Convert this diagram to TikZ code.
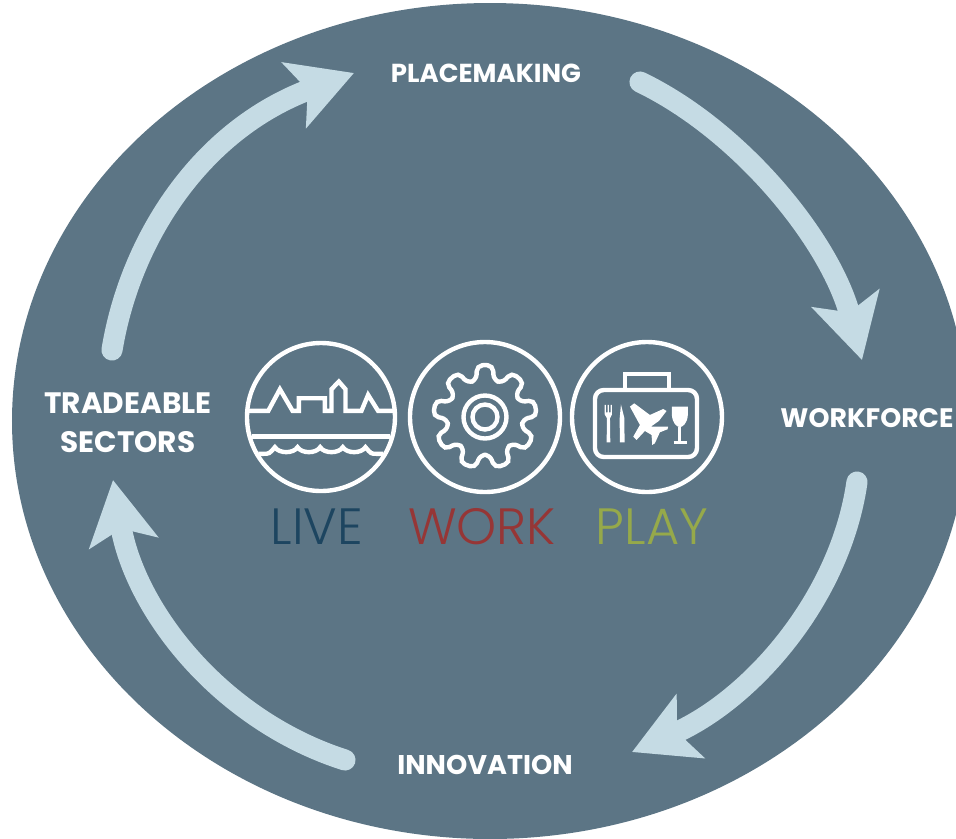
\documentclass[tikz,border=0pt]{standalone}
\usepackage{fontspec}
\usetikzlibrary{arrows.meta}
\setmainfont{Poppins}
\newfontfamily\thinfont{Poppins Light}
\definecolor{discblue}{HTML}{5C7585}
\definecolor{arrowblue}{HTML}{C5DBE4}
\definecolor{livecol}{HTML}{1D4560}
\definecolor{workcol}{HTML}{963636}
\definecolor{playcol}{HTML}{96A94A}
\tikzset{
  stagelabel/.style={text=white,font=\fontsize{#1}{11}\selectfont\bfseries,align=center,inner sep=0pt},
  wordlabel/.style={font=\fontsize{14.5}{16}\thinfont,inner sep=0pt},
  cyclearrow/.style={draw=arrowblue,line width=6pt,line cap=round,
    -{Stealth[length=18pt,width=19.5pt,inset=4pt,fill=arrowblue]}},
  iconline/.style={draw=white,line width=1.25pt},
  iconfill/.style={fill=white},
}
\begin{document}
\begin{tikzpicture}[x=0.01cm,y=-0.01cm]
\useasboundingbox (0,0) rectangle (956,838);
\clip (0,0) rectangle (956,838);

\fill [discblue] (490,421) ellipse [x radius=478,y radius=418];

\node [stagelabel=7.4] (placemaking) at (486,73) {PLACEMAKING};
\node [stagelabel=7.6] (workforce) at (867,418) {WORKFORCE};
\node [stagelabel=7.7] (innovation) at (485,765) {INNOVATION};
\node [stagelabel=8.4] (tradeable) at (128,423) {TRADEABLE\\SECTORS};

\coordinate (arrowAstart) at (112,350);
\coordinate (arrowAend) at (354,73);
\coordinate (arrowBstart) at (640,82);
\coordinate (arrowBend) at (862,360);
\coordinate (arrowCstart) at (857,482);
\coordinate (arrowCend) at (632,752);
\coordinate (arrowDstart) at (345,760);
\coordinate (arrowDend) at (113,480);

\draw [cyclearrow] (arrowAstart) .. controls (130,240) and (200,130) .. (arrowAend);
\draw [cyclearrow] (arrowBstart) .. controls (740,130) and (830,240) .. (arrowBend);
\draw [cyclearrow] (arrowCstart) .. controls (840,600) and (750,700) .. (arrowCend);
\draw [cyclearrow] (arrowDstart) .. controls (220,720) and (135,610) .. (arrowDend);

\node [wordlabel,text=livecol] (live) at (317,527) {LIVE};
\node [wordlabel,text=workcol] (work) at (482,527) {WORK};
\node [wordlabel,text=playcol] (play) at (652,527) {PLAY};

% live icon
\draw [iconline] (321,417) circle [radius=74];
\begin{scope}[shift={(230,330)},x=0.00333cm,y=-0.00333cm]
\draw [iconline,miter limit=4] (55,243) -- (115,243) -- (150,178) -- (188,243) -- (207,243) -- (207,205)
  -- (285,205) -- (285,243) -- (305,243) -- (305,178) -- (327,155) -- (347,178) -- (347,243)
  -- (395,243) -- (415,195) -- (445,243) -- (490,243);
\draw [iconline] (65,320) -- (480,320);
\draw [iconline] (85,372) -- (100,372) .. controls (118,372) .. (135,352)
  \foreach \x in {135,203,271,339} { .. controls (\x+12,372) and (\x+56,372) .. (\x+68,352) }
  .. controls (424,372) .. (440,372) -- (460,372);
\end{scope}

% work icon
\draw [iconline] (485,417) circle [radius=75];
\draw [iconline] (485,417) circle [radius=21.5];
\draw [iconline] (485,417) circle [radius=12.5];
\begin{scope}[shift={(485,417)}]
\draw [iconline,rounded corners=1.6pt] (270:52) -- (279:52) -- (283:38) -- (297:38)
  \foreach \a in {310,350,30,70,110,150,190,230} {
    -- (\a-9:52) -- (\a+9:52) -- (\a+13:38) -- (\a+27:38)
  } -- (261:52) -- (270:52);
\end{scope}

% play icon
\draw [iconline] (647,417) circle [radius=75];
\draw [iconline,rounded corners=2.5pt] (595,390) rectangle (697,457);
\draw [iconline] (625,390) -- (625,374) -- (669,374) -- (669,390);
\begin{scope}[shift={(595,395)},x=0.00333cm,y=-0.00333cm]
\fill [iconfill] (29,30) -- (33,30) -- (33,52) -- (38,52) -- (38,30) -- (42,30) -- (42,52) -- (47,52) -- (47,30) -- (51,30)
  -- (51,58) -- (45,70) -- (46,142) -- (35,142) -- (36,70) -- (29,58) -- cycle;
\fill [iconfill] (78,28) -- (88,68) -- (89,142) -- (75,142) -- (74,72) -- cycle;
\fill [iconfill] (105,35) -- (118,25) -- (165,60) -- (205,42) -- (215,48) -- (192,78) -- (168,95) -- (220,95) -- (218,103)
  -- (195,112) -- (180,145) -- (172,150) -- (170,120) -- (150,108) -- (125,135) -- (115,125) -- (135,90) -- cycle;
\fill [iconfill] (231,35) -- (279,35) -- (279,60) .. controls (277,85) and (265,95) .. (255,97)
  .. controls (245,95) and (233,85) .. (231,60) -- cycle;
\draw [iconline,line width=0.8pt] (255,97) -- (255,142);
\draw [iconline,line width=0.9pt] (236,142) -- (276,142);
\end{scope}

\end{tikzpicture}
\end{document}
